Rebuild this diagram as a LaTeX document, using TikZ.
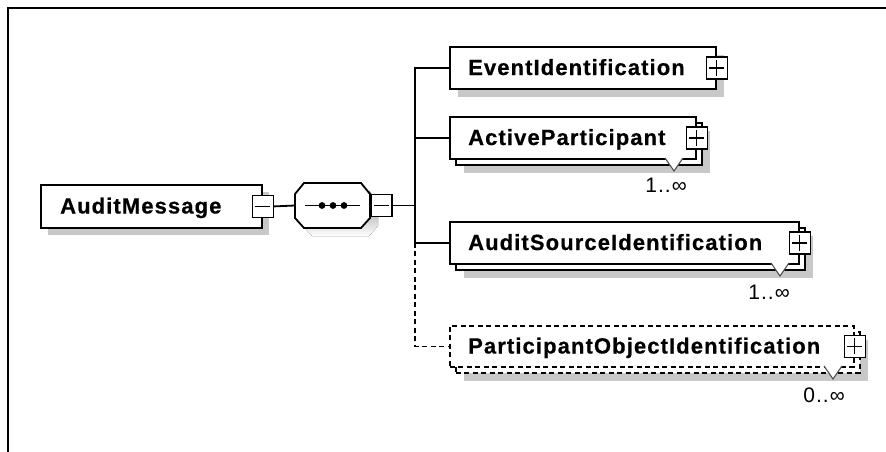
\documentclass[tikz,border=0pt]{standalone}
\usepackage{fontspec}
\setmainfont{Liberation Sans}
\newfontfamily\namefont[LetterSpace=5, FakeBold=0.6]{Liberation Sans Bold}
\newfontfamily\occfont[LetterSpace=5]{Liberation Sans}
\definecolor{shade}{RGB}{200,200,200}
\definecolor{tricol}{RGB}{80,80,80}
\tikzset{
  elbox/.style={rectangle, draw=black, line width=1.8pt, fill=white, inner sep=0pt, anchor=north west},
  optbox/.style={elbox, dash pattern=on 5pt off 3.5pt},
  shadowbox/.style={rectangle, fill=shade, inner sep=0pt, anchor=north west},
  elname/.style={inner sep=0pt, anchor=base west, font=\namefont\fontsize{22}{26}\selectfont},
  occ/.style={inner sep=0pt, anchor=base east, font=\occfont\fontsize{21}{24}\selectfont},
  pmbase/.style={rectangle, draw=black, line width=1.5pt, fill=white, inner sep=0pt,
    minimum width=21pt, minimum height=22pt},
  minusbox/.style={pmbase, path picture={
    \draw[line width=1.3pt] ([xshift=3pt]path picture bounding box.west) -- ([xshift=-3pt]path picture bounding box.east);}},
  plusbox/.style={pmbase, path picture={
    \draw[line width=1.3pt] ([xshift=3pt]path picture bounding box.west) -- ([xshift=-3pt]path picture bounding box.east);
    \draw[line width=1.3pt] ([yshift=-3pt]path picture bounding box.north) -- ([yshift=3pt]path picture bounding box.south);}},
  conn/.style={line width=1.8pt, draw=black},
  optconn/.style={conn, dash pattern=on 5pt off 3.5pt},
  occmark/.style={draw=tricol, line width=1.1pt, fill=white},
  octagon/.style={line width=1.8pt},
}
\begin{document}
\begin{tikzpicture}[x=1pt,y=-1pt]
\useasboundingbox (0,0) rectangle (886,452);
% outer frame: left and top edges only
\draw[line width=2.5pt] (8,452) -- (8,8) -- (886,8);

% ---- root element ----
\node[shadowbox, minimum width=221pt, minimum height=43pt] (amsh) at (48,192) {};
\node[elbox, minimum width=221pt, minimum height=43pt] (am) at (40,184) {};
\node[elname] (amt) at (60,213.5) {AuditMessage};
\node[minusbox] (amm) at (am.east) {};

% ---- sequence compositor (octagon) ----
\fill[shade, shift={(8,8)}] (295,194) -- (304,183) -- (361,183) -- (370,194) -- (370,218) -- (361,228) -- (304,228) -- (295,218) -- cycle;
\draw[octagon, fill=white] (295,194) -- (304,183) -- (361,183) -- (370,194) -- (370,218) -- (361,228) -- (304,228) -- (295,218) -- cycle;
\coordinate (seqw) at (295,205.5);
\coordinate (seqe) at (370,205.5);
\draw[line width=1.5pt] (305,205.5) -- (360,205.5);
\fill (322,205.5) circle (3.4pt) (333,205.5) circle (3.4pt) (344,205.5) circle (3.4pt);
\node[minusbox, anchor=west] (seqm) at (seqe) {};

% ---- EventIdentification ----
\node[shadowbox, minimum width=266pt, minimum height=42pt] (evsh) at (458,55) {};
\node[elbox, minimum width=266pt, minimum height=42pt] (ev) at (449,46) {};
\node[elname] (evt) at (468,75) {EventIdentification};
\node[plusbox] (evp) at (ev.east) {};

% ---- ActiveParticipant (1..unbounded) ----
\node[shadowbox, minimum width=246pt, minimum height=42pt] (apsh) at (464,131) {};
\node[elbox, minimum width=246pt, minimum height=42pt] (apb) at (455,122) {};
\node[elbox, minimum width=246pt, minimum height=42pt] (ap) at (449,116) {};
\node[elname] (apt) at (468,145) {ActiveParticipant};
\node[plusbox] (app) at (ap.east) {};
\draw[occmark] (665,158) -- (674,171) -- (683,158);
\node[occ] (apo) at (687,192) {1..∞};

% ---- AuditSourceIdentification (1..unbounded) ----
\node[shadowbox, minimum width=349pt, minimum height=42pt] (assh) at (464,236) {};
\node[elbox, minimum width=349pt, minimum height=42pt] (asb) at (455,227) {};
\node[elbox, minimum width=349pt, minimum height=42pt] (as) at (449,221) {};
\node[elname] (ast) at (468,250) {AuditSourceIdentification};
\node[plusbox] (asp) at (as.east) {};
\draw[occmark] (771,263) -- (780,276) -- (789,263);
\node[occ] (aso) at (790,299) {1..∞};

% ---- ParticipantObjectIdentification (optional, 0..unbounded) ----
\node[shadowbox, minimum width=404pt, minimum height=41pt] (posh) at (464,340) {};
\node[optbox, minimum width=404pt, minimum height=41pt] (pob) at (455,331) {};
\node[optbox, minimum width=404pt, minimum height=41pt] (po) at (449,325) {};
\node[elname] (pot) at (468,353.5) {ParticipantObjectIdentification};
\node[plusbox] (pop) at (po.east) {};
\draw[occmark] (824,366) -- (833,379) -- (842,366);
\node[occ] (poo) at (845,402) {0..∞};

% ---- connectors ----
\coordinate (bus) at (415,205.5);
\draw[conn] (amm.east) -- (seqw);
\draw[conn] (seqm.east) -- (bus);
\draw[conn] (ev.west) -| (bus |- as.west) -- (as.west);
\draw[conn] (bus |- ap.west) -- (ap.west);
\draw[optconn] (bus |- as.west) |- (po.west);
\end{tikzpicture}
\end{document}
